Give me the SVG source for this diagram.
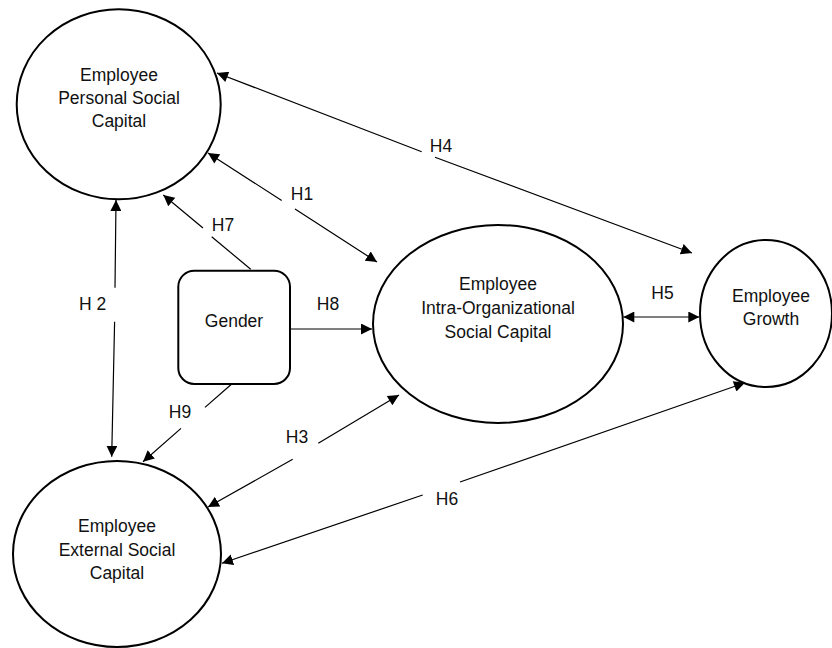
<svg xmlns="http://www.w3.org/2000/svg" width="832" height="648" viewBox="0 0 832 648">
<style>
.n{fill:#fff;stroke:#000;stroke-width:2}
.t{font-family:"Liberation Sans",Arial,sans-serif;font-size:17.5px;fill:#111;text-anchor:middle}
.c{fill:none;stroke:#000;stroke-width:1.2}
.a{marker-end:url(#ah)}
.b{marker-start:url(#ahs);marker-end:url(#ah)}
</style>
<defs>
<marker id="ah" markerUnits="userSpaceOnUse" markerWidth="12" markerHeight="12" refX="11" refY="5.5" orient="auto"><path d="M0,0 L11,5.5 L0,11 z" fill="#000"/></marker>
<marker id="ahs" markerUnits="userSpaceOnUse" markerWidth="12" markerHeight="12" refX="0" refY="5.5" orient="auto"><path d="M11,0 L0,5.5 L11,11 z" fill="#000"/></marker>
</defs>
<rect width="832" height="648" fill="#fff"/>
<g id="personal"><ellipse class="n" cx="118.7" cy="104.3" rx="102" ry="95"/><text class="t" x="119" y="81">Employee</text><text class="t" x="119" y="104">Personal Social</text><text class="t" x="119" y="127">Capital</text></g>
<g id="external"><ellipse class="n" cx="117" cy="554" rx="104" ry="93"/><text class="t" x="117" y="532">Employee</text><text class="t" x="117" y="556">External Social</text><text class="t" x="117" y="579">Capital</text></g>
<g id="intra"><ellipse class="n" cx="498" cy="324" rx="125" ry="99"/><text class="t" x="498" y="290">Employee</text><text class="t" x="498" y="314">Intra-Organizational</text><text class="t" x="498" y="338">Social Capital</text></g>
<g id="growth"><ellipse class="n" cx="766" cy="313.5" rx="66" ry="73.5"/><text class="t" x="771" y="302">Employee</text><text class="t" x="771" y="325">Growth</text></g>
<g id="gender"><rect class="n" x="178.3" y="270.7" width="111.7" height="113.3" rx="16" ry="16"/><text class="t" x="234" y="327">Gender</text></g>
<g id="connectors">
<path class="c b" d="M217,73 L421.7,151.7 M435,157.3 L692,253"/>
<path class="c b" d="M208,153 L281.7,200.5 M295,209.1 L377,262"/>
<path class="c a" d="M250.7,269.3 L211.7,236.7 M203,228 L163.3,195"/>
<path class="c a" d="M290,329 L372,329"/>
<path class="c b" d="M623.3,317 L699.3,317"/>
<path class="c b" d="M116,200 L115,287.7 M114.6,321.7 L111.7,456.7"/>
<path class="c a" d="M231.7,384 L205,407.4 M181,428.4 L143,461.7"/>
<path class="c b" d="M399,395 L318.3,443.3 M292.7,459.3 L208,507"/>
<path class="c b" d="M745,382.7 L460,482 M422.7,495 L222,563.3"/>
</g>
<g id="labels">
<text class="t" x="441" y="152">H4</text>
<text class="t" x="302" y="200">H1</text>
<text class="t" x="223" y="231">H7</text>
<text class="t" x="328" y="310">H8</text>
<text class="t" x="662.5" y="299">H5</text>
<text class="t" x="92.5" y="310">H 2</text>
<text class="t" x="180" y="418">H9</text>
<text class="t" x="297" y="443">H3</text>
<text class="t" x="447" y="505">H6</text>
</g>
</svg>
